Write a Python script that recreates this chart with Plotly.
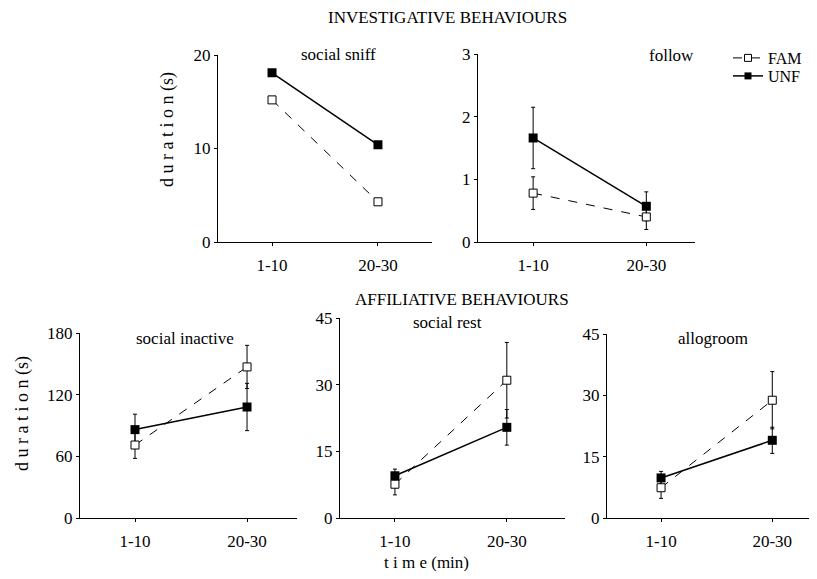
import plotly.graph_objects as go

# page has an 8px body margin; the figure is sized to fit inside the window
PAGE_W, PAGE_H = 817, 579
OFF = 8
W, H = PAGE_W - 2 * OFF, PAGE_H - 2 * OFF
FONT = "Liberation Serif"

# ---- data ----
time_labels = ["1-10", "20-30"]
time_pos = [1, 2]

panels = ["social sniff", "follow", "social inactive", "social rest", "allogroom"]

fam_sniff = [15.2, 4.3]
unf_sniff = [18.1, 10.4]

fam_follow = [0.78, 0.40]
fam_follow_err = [0.26, 0.20]
unf_follow = [1.66, 0.57]
unf_follow_err = [0.49, 0.23]

fam_inactive = [71, 147]
fam_inactive_err = [13, 21]
unf_inactive = [86, 108]
unf_inactive_err = [15, 23]

fam_rest = [7.6, 31.0]
fam_rest_err = [2.4, 8.5]
unf_rest = [9.5, 20.4]
unf_rest_err = [1.5, 4.0]

fam_groom = [7.4, 28.8]
fam_groom_err = [2.6, 7.0]
unf_groom = [9.8, 19.0]
unf_groom_err = [1.6, 3.2]

y_ranges = [[0, 20], [0, 3], [0, 180], [0, 45], [0, 45]]
y_ticks = [[0, 10, 20], [0, 1, 2, 3], [0, 60, 120, 180], [0, 15, 30, 45], [0, 15, 30, 45]]

series = [
    (fam_sniff, None, unf_sniff, None),
    (fam_follow, fam_follow_err, unf_follow, unf_follow_err),
    (fam_inactive, fam_inactive_err, unf_inactive, unf_inactive_err),
    (fam_rest, fam_rest_err, unf_rest, unf_rest_err),
    (fam_groom, fam_groom_err, unf_groom, unf_groom_err),
]

# ---- layout geometry (page pixels) ----
boxes = [
    (218, 432, 55, 242, [0.49, 2.51]),
    (478, 695, 54, 242, [0.513, 2.43]),
    (80, 297, 333, 518, [0.509, 2.446]),
    (340, 565, 318, 518, [0.509, 2.52]),
    (607, 809, 334, 518, [0.514, 2.33]),
]

def px(x):
    return (x - OFF) / W

def py(y):
    return 1 - (y - OFF) / H

TICK = 17
fig = go.Figure()
layout = dict(
    width=W, height=H,
    margin=dict(l=0, r=0, t=0, b=0, pad=0),
    paper_bgcolor="white", plot_bgcolor="white",
    font=dict(family=FONT, color="black", size=TICK),
    showlegend=True,
    legend=dict(x=px(728), y=py(58), xanchor="left", yanchor="middle",
                font=dict(family=FONT, size=16, color="black"),
                bgcolor="rgba(0,0,0,0)", itemwidth=30),
    legend2=dict(x=px(728), y=py(76), xanchor="left", yanchor="middle",
                 font=dict(family=FONT, size=16, color="black"),
                 bgcolor="rgba(0,0,0,0)", itemwidth=30),
)

for i, (box, (fv, fe, uv, ue)) in enumerate(zip(boxes, series)):
    n = i + 1
    xa = "x" if n == 1 else f"x{n}"
    ya = "y" if n == 1 else f"y{n}"
    x0, x1, y0, y1, xr = box
    layout[f"xaxis{'' if n == 1 else n}"] = dict(
        domain=[px(x0), min(px(x1), 1)], anchor=ya, range=xr, automargin=False,
        tickvals=time_pos, ticktext=time_labels,
        showline=True, linecolor="black", linewidth=1,
        ticks="outside", ticklen=3, tickcolor="black", ticklabelstandoff=5,
        showgrid=False, zeroline=False,
        tickfont=dict(family=FONT, size=TICK, color="black"),
    )
    layout[f"yaxis{'' if n == 1 else n}"] = dict(
        domain=[py(y1), py(y0)], anchor=xa, range=y_ranges[i], automargin=False,
        tickvals=y_ticks[i],
        showline=True, linecolor="black", linewidth=1,
        ticks="outside", ticklen=3, tickcolor="black",
        showgrid=False, zeroline=False,
        tickfont=dict(family=FONT, size=TICK, color="black"),
    )
    fam_err = dict(type="data", array=fe, color="black", thickness=1, width=2) if fe else None
    unf_err = dict(type="data", array=ue, color="black", thickness=1, width=2) if ue else None
    fig.add_trace(go.Scatter(
        x=time_pos, y=uv, xaxis=xa, yaxis=ya, name="UNF",
        mode="lines+markers", showlegend=False,
        line=dict(color="black", width=1.5),
        marker=dict(symbol="square", size=9, color="black"),
        error_y=unf_err,
    ))
    fig.add_trace(go.Scatter(
        x=time_pos, y=fv, xaxis=xa, yaxis=ya, name="FAM",
        mode="lines+markers", showlegend=False,
        line=dict(color="black", width=1, dash="dash"),
        marker=dict(symbol="square", size=8, color="white",
                    line=dict(color="black", width=1)),
        error_y=fam_err,
    ))

# legend entries
fig.add_trace(go.Scatter(
    x=[None], y=[None], name="FAM", mode="lines+markers", legend="legend",
    line=dict(color="black", width=1, dash="dash"),
    marker=dict(symbol="square", size=7, color="white", line=dict(color="black", width=1)),
))
fig.add_trace(go.Scatter(
    x=[None], y=[None], name="UNF", mode="lines+markers", legend="legend2",
    line=dict(color="black", width=1.5),
    marker=dict(symbol="square", size=7, color="black"),
))

annotations = []
# axis titles
for tx, ty in [(167, 130), (22, 414)]:
    annotations.append(dict(text="d u r a t i o n (s)", x=px(tx), y=py(ty),
                            xref="paper", yref="paper", showarrow=False, textangle=-90,
                            xanchor="center", yanchor="middle",
                            font=dict(family=FONT, size=18, color="black")))
annotations.append(dict(text="t i m e (min)", x=px(427), y=py(562),
                        xref="paper", yref="paper", showarrow=False,
                        xanchor="center", yanchor="middle",
                        font=dict(family=FONT, size=17, color="black")))

# panel titles and section titles
title_pos = [(338, 54), (671, 56), (185, 338), (447, 322), (713, 338)]
for name, (tx, ty) in zip(panels, title_pos):
    annotations.append(dict(text=name, x=px(tx), y=py(ty), xref="paper", yref="paper",
                            showarrow=False, xanchor="center", yanchor="middle",
                            font=dict(family=FONT, size=17, color="black")))
annotations.append(dict(text="INVESTIGATIVE BEHAVIOURS", x=px(447), y=py(17),
                        xref="paper", yref="paper", showarrow=False,
                        xanchor="center", yanchor="middle",
                        font=dict(family=FONT, size=17, color="black")))
annotations.append(dict(text="AFFILIATIVE BEHAVIOURS", x=px(462), y=py(299),
                        xref="paper", yref="paper", showarrow=False,
                        xanchor="center", yanchor="middle",
                        font=dict(family=FONT, size=17, color="black")))
layout["annotations"] = annotations

fig.update_layout(**layout)
fig.write_html("out.html")
